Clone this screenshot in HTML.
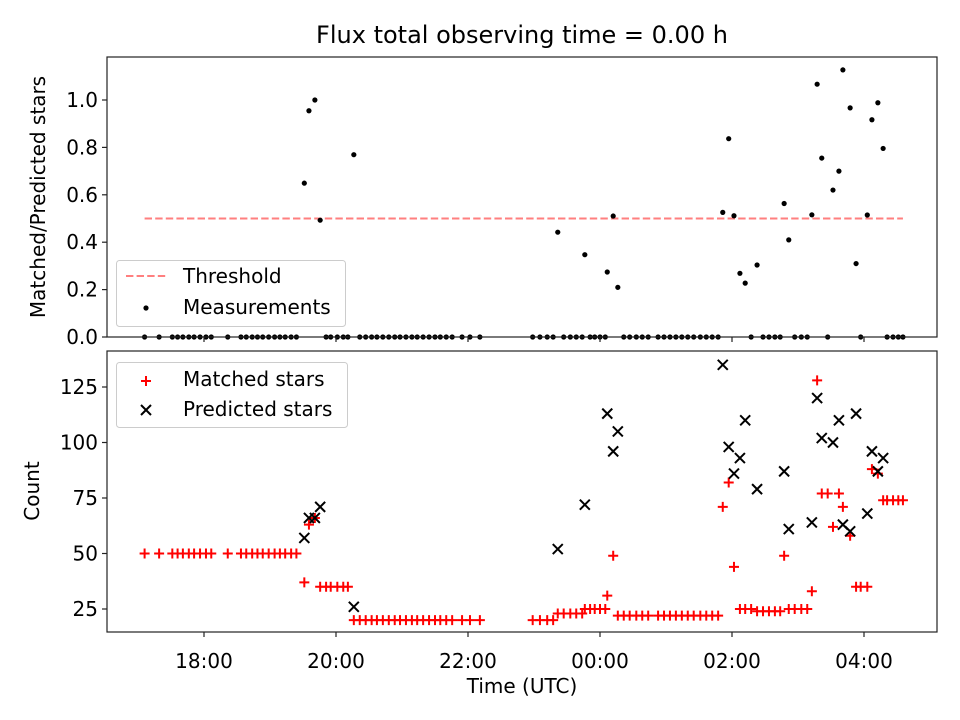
<!DOCTYPE html>
<html><head><meta charset="utf-8"><style>
html,body{margin:0;padding:0;background:#fff;}
svg{display:block;font-family:"DejaVu Sans","Liberation Sans",sans-serif;}
</style></head><body>
<svg id="chart" width="960" height="720" viewBox="0 0 960 720" xmlns="http://www.w3.org/2000/svg"></svg>
<script>
// Times in decimal hours (after midnight => +24)
const times = [17.10,17.32,17.52,17.60,17.68,17.77,17.85,17.94,18.03,18.11,18.36,18.56,18.64,18.73,18.81,18.89,18.98,19.07,19.15,19.23,19.32,19.40,
19.52,19.59,19.68,19.76,19.85,19.92,20.02,20.11,20.18,20.27,
20.36,20.45,20.54,20.62,20.71,20.80,20.89,20.97,21.06,21.15,21.23,21.32,21.41,21.50,21.58,21.67,21.76,21.91,22.03,22.18,
22.98,23.09,23.20,23.29,23.36,23.45,23.55,23.64,23.73,23.77,23.85,23.92,24.00,24.08,
24.11,24.20,24.27,24.36,24.45,24.55,24.64,24.73,24.88,24.97,25.06,25.15,25.24,25.33,25.42,25.52,25.61,25.70,25.79,
25.86,25.95,26.03,26.12,26.20,26.29,26.38,26.47,26.56,26.65,26.73,26.79,26.86,26.95,27.05,27.14,27.21,27.29,27.36,27.45,27.53,27.62,27.68,27.79,27.88,27.95,28.05,28.12,28.21,28.29,28.35,28.44,28.52,28.59];
const matched = [50,50,50,50,50,50,50,50,50,50,50,50,50,50,50,50,50,50,50,50,50,50,
37,63,66,35,35,35,35,35,35,20,
20,20,20,20,20,20,20,20,20,20,20,20,20,20,20,20,20,20,20,20,
20,20,20,20,23,23,23,23,23,25,25,25,25,25,
31,49,22,22,22,22,22,22,22,22,22,22,22,22,22,22,22,22,22,
71,82,44,25,25,25,24,24,24,24,24,49,25,25,25,25,33,128,77,77,62,77,71,58,35,35,35,88,86,74,74,74,74,74];
const predicted = [null,null,null,null,null,null,null,null,null,null,null,null,null,null,null,null,null,null,null,null,null,null,
57,66,66,71,null,null,null,null,null,26,
null,null,null,null,null,null,null,null,null,null,null,null,null,null,null,null,null,null,null,null,
null,null,null,null,52,null,null,null,null,72,null,null,null,null,
113,96,105,null,null,null,null,null,null,null,null,null,null,null,null,null,null,null,null,
135,98,86,93,110,null,79,null,null,null,null,87,61,null,null,null,64,120,102,null,100,110,63,60,113,null,68,96,87,93,null,null,null,null];
const threshold = 0.5;
const xTicks = [18,20,22,24,26,28];
const xTickLabels = ["18:00","20:00","22:00","00:00","02:00","04:00"];
const topTicks = [0,0.2,0.4,0.6,0.8,1.0];
const botTicks = [25,50,75,100,125];

const NS="http://www.w3.org/2000/svg";
const svg=document.getElementById('chart');
function el(tag,attrs,parent){const e=document.createElementNS(NS,tag);for(const k in attrs)e.setAttribute(k,attrs[k]);(parent||svg).appendChild(e);return e;}
const L=107,R=937;
const xS=t=>204+66*(t-18);
const yTop=v=>337-237*v;
const yBot=v=>609-2.22*(v-25);
const FS='20';

let t=el('text',{x:522,y:43,'text-anchor':'middle','font-size':'24'});t.textContent='Flux total observing time = 0.00 h';



const gTop=el('g',{});


let th=el('line',{x1:xS(times[0]),x2:xS(times[times.length-1]),y1:yTop(threshold),y2:yTop(threshold),stroke:'#ff7f7f','stroke-width':2,'stroke-dasharray':'7.4,3.2'},gTop);


times.forEach((tt,i)=>{
  const r=predicted[i]?matched[i]/predicted[i]:0;
  const c=el('circle',{cx:xS(tt),cy:yTop(r),r:2.6,fill:'#000'},gTop);
  
  
});
const gBot=el('g',{});


times.forEach((tt,i)=>{
  const x=xS(tt),y=yBot(matched[i]);
  const p=el('path',{d:`M${x-5},${y}H${x+5}M${x},${y-5}V${y+5}`,stroke:'#f00','stroke-width':2,fill:'none'},gBot);
  
  
});
times.forEach((tt,i)=>{
  if(predicted[i]==null)return;
  const x=xS(tt),y=yBot(predicted[i]);
  const p=el('path',{d:`M${x-5},${y-5}L${x+5},${y+5}M${x-5},${y+5}L${x+5},${y-5}`,stroke:'#000','stroke-width':2,fill:'none'},gBot);
  
  
});

let f1=el('rect',{x:L,y:57,width:R-L,height:280,fill:'none',stroke:'#222','stroke-width':1.2});


let f2=el('rect',{x:L,y:351,width:R-L,height:281,fill:'none',stroke:'#222','stroke-width':1.2});



xTicks.forEach((v,i)=>{
  const x=xS(v);
  el('line',{x1:x,x2:x,y1:337,y2:342,stroke:'#222','stroke-width':1.2});
  el('line',{x1:x,x2:x,y1:632,y2:637,stroke:'#222','stroke-width':1.2});
  const tx=el('text',{x:x,y:668,'text-anchor':'middle','font-size':FS});tx.textContent=xTickLabels[i];
  
  
});
topTicks.forEach(v=>{
  const y=yTop(v);
  el('line',{x1:L-5,x2:L,y1:y,y2:y,stroke:'#222','stroke-width':1.2});
  const tx=el('text',{x:L-9,y:y+7,'text-anchor':'end','font-size':FS});tx.textContent=v.toFixed(1);
  
  
});
botTicks.forEach(v=>{
  const y=yBot(v);
  el('line',{x1:L-5,x2:L,y1:y,y2:y,stroke:'#222','stroke-width':1.2});
  const tx=el('text',{x:L-9,y:y+7,'text-anchor':'end','font-size':FS});tx.textContent=String(v);
  
  
});
let xl=el('text',{x:522,y:693,'text-anchor':'middle','font-size':FS});xl.textContent='Time (UTC)';


let yl1=el('text',{x:0,y:0,'text-anchor':'middle','font-size':FS,transform:'translate(45,197) rotate(-90)'});yl1.textContent='Matched/Predicted stars';


let yl2=el('text',{x:0,y:0,'text-anchor':'middle','font-size':FS,transform:'translate(39,491) rotate(-90)'});yl2.textContent='Count';



const lg1=el('g',{});


el('rect',{x:116.5,y:260.5,width:229,height:66,rx:3,fill:'#fff','fill-opacity':0.8,stroke:'#ccc'},lg1);
el('line',{x1:126,x2:166,y1:276,y2:276,stroke:'#ff7f7f','stroke-width':2,'stroke-dasharray':'7.4,3.2'},lg1);
let a=el('text',{x:183,y:283,'font-size':FS},lg1);a.textContent='Threshold';


el('circle',{cx:146,cy:308,r:2.6,fill:'#000'},lg1);
let b=el('text',{x:183,y:314,'font-size':FS},lg1);b.textContent='Measurements';



const lg2=el('g',{});


el('rect',{x:116.5,y:362.5,width:231,height:65,rx:3,fill:'#fff','fill-opacity':0.8,stroke:'#ccc'},lg2);
el('path',{d:'M141,381H151M146,376V386',stroke:'#f00','stroke-width':2},lg2);
let c1=el('text',{x:183,y:386,'font-size':FS},lg2);c1.textContent='Matched stars';


el('path',{d:'M141,405L151,415M141,415L151,405',stroke:'#000','stroke-width':2},lg2);
let c2=el('text',{x:183,y:416,'font-size':FS},lg2);c2.textContent='Predicted stars';


</script>
</body></html>
